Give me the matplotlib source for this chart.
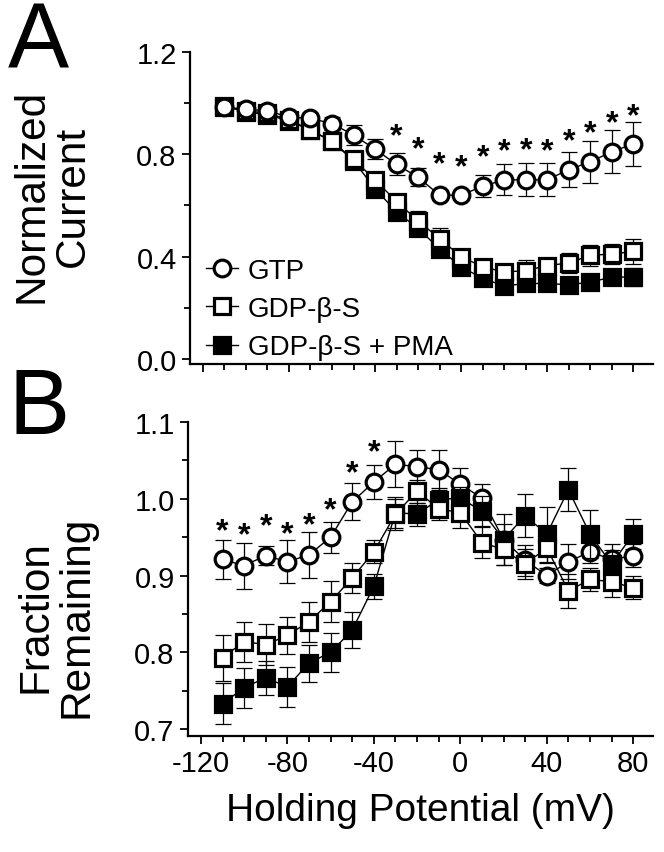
import matplotlib.pyplot as plt
from matplotlib.ticker import MultipleLocator

plt.rcParams['font.family'] = ['Liberation Sans', 'DejaVu Sans']
plt.rcParams['axes.unicode_minus'] = False

# Holding potentials (mV)
volts = [-110, -100, -90, -80, -70, -60, -50, -40, -30, -20,
         -10, 0, 10, 20, 30, 40, 50, 60, 70, 80]
series_names = ['GTP', 'GDP-\u03b2-S', 'GDP-\u03b2-S + PMA']

# Panel A: normalized current
a_gtp = [0.985, 0.975, 0.97, 0.945, 0.94, 0.92, 0.875, 0.82, 0.76, 0.71,
         0.64, 0.64, 0.675, 0.70, 0.70, 0.70, 0.74, 0.77, 0.81, 0.84]
a_gtp_err = [0.015, 0.015, 0.015, 0.02, 0.02, 0.025, 0.038, 0.039, 0.043, 0.035,
             0.015, 0.012, 0.043, 0.06, 0.064, 0.065, 0.069, 0.082, 0.085, 0.085]
a_gdp = [0.985, 0.97, 0.96, 0.935, 0.895, 0.85, 0.78, 0.70, 0.615, 0.54,
         0.47, 0.40, 0.36, 0.34, 0.345, 0.365, 0.375, 0.405, 0.41, 0.42]
a_gdp_err = [0.01, 0.01, 0.01, 0.015, 0.015, 0.02, 0.02, 0.025, 0.03, 0.04,
             0.04, 0.03, 0.03, 0.03, 0.04, 0.03, 0.04, 0.04, 0.04, 0.047]
a_pma = [0.99, 0.965, 0.955, 0.93, 0.895, 0.85, 0.775, 0.665, 0.575, 0.51,
         0.43, 0.36, 0.315, 0.285, 0.295, 0.295, 0.29, 0.30, 0.32, 0.32]
a_pma_err = [0.015, 0.015, 0.015, 0.015, 0.015, 0.02, 0.02, 0.02, 0.02, 0.02,
             0.02, 0.02, 0.02, 0.02, 0.02, 0.02, 0.03, 0.02, 0.02, 0.035]
a_star_x = [-30, -20, -10, 0, 10, 20, 30, 40, 50, 60, 70, 80]
a_star_y = [0.91, 0.86, 0.80, 0.79, 0.83, 0.85, 0.855, 0.85, 0.89, 0.92, 0.96, 0.99]

# Panel B: fraction remaining
b_gtp = [0.921, 0.913, 0.926, 0.918, 0.927, 0.95, 0.996, 1.022, 1.045, 1.042,
         1.038, 1.019, 1.001, 0.947, 0.92, 0.90, 0.918, 0.931, 0.921, 0.926]
b_gtp_err = [0.025, 0.03, 0.012, 0.028, 0.03, 0.02, 0.024, 0.022, 0.03, 0.021,
             0.026, 0.021, 0.018, 0.02, 0.02, 0.01, 0.023, 0.015, 0.012, 0.015]
b_gdp = [0.793, 0.814, 0.81, 0.822, 0.84, 0.866, 0.897, 0.931, 0.98, 1.01,
         0.987, 0.982, 0.943, 0.934, 0.915, 0.936, 0.88, 0.895, 0.892, 0.884]
b_gdp_err = [0.03, 0.026, 0.027, 0.024, 0.026, 0.027, 0.02, 0.015, 0.02, 0.015,
             0.015, 0.02, 0.02, 0.02, 0.02, 0.02, 0.022, 0.015, 0.02, 0.015]
b_pma = [0.733, 0.754, 0.767, 0.755, 0.786, 0.80, 0.829, 0.886, 0.982, 0.98,
         0.999, 1.001, 0.984, 0.947, 0.978, 0.954, 1.012, 0.954, 0.915, 0.954]
b_pma_err = [0.027, 0.026, 0.022, 0.026, 0.024, 0.025, 0.024, 0.016, 0.02, 0.015,
             0.015, 0.015, 0.02, 0.033, 0.028, 0.036, 0.028, 0.031, 0.026, 0.02]
b_star_x = [-110, -100, -90, -80, -70, -60, -50, -40]
b_star_y = [0.971, 0.966, 0.978, 0.967, 0.979, 0.999, 1.046, 1.074]

fig = plt.figure(figsize=(6.64, 8.53), dpi=100)
ax_a = fig.add_axes([0.286, 0.572, 0.697, 0.366])
ax_b = fig.add_axes([0.283, 0.136, 0.700, 0.368])

styles = [dict(marker='o', mfc='white', ms=12),
          dict(marker='s', mfc='white', ms=11.5),
          dict(marker='s', mfc='black', ms=11.5)]


def draw_series(ax, y, err, style, z):
    ax.errorbar(volts, y, yerr=err, fmt='none', ecolor='black', elinewidth=0.9,
                capsize=5.5, capthick=0.9, zorder=z)
    line, = ax.plot(volts, y, '-', color='black', lw=1.0, mec='black', mew=2.3,
                    zorder=z + 0.5, **style)
    return line


def draw_stars(ax, xs, ys):
    fs = 23
    for x, y in zip(xs, ys):
        ax.annotate('*', xy=(x, y), xytext=(0, -0.57 * fs), textcoords='offset points',
                    ha='center', va='baseline', fontsize=fs, fontweight='bold')


# panel A: filled, open, circles on top
h_pma = draw_series(ax_a, a_pma, a_pma_err, styles[2], 2)
h_gdp = draw_series(ax_a, a_gdp, a_gdp_err, styles[1], 3)
h_gtp = draw_series(ax_a, a_gtp, a_gtp_err, styles[0], 4)
draw_stars(ax_a, a_star_x, a_star_y)

# panel B: circles, filled, open on top
draw_series(ax_b, b_gtp, b_gtp_err, styles[0], 2)
draw_series(ax_b, b_pma, b_pma_err, styles[2], 3)
draw_series(ax_b, b_gdp, b_gdp_err, styles[1], 4)
draw_stars(ax_b, b_star_x, b_star_y)

ax_a.legend([h_gtp, h_gdp, h_pma], series_names, loc='lower left',
            bbox_to_anchor=(0.035, 0.012), frameon=False, fontsize=20,
            handlelength=1.15, handletextpad=0.35, labelspacing=0.44,
            borderpad=0, borderaxespad=0)

for ax in (ax_a, ax_b):
    ax.set_xlim(-126, 89)
    ax.spines['top'].set_visible(False)
    ax.spines['right'].set_visible(False)
    ax.spines['left'].set_linewidth(1.6)
    ax.spines['bottom'].set_linewidth(1.6)
    ax.xaxis.set_major_locator(MultipleLocator(40))
    ax.xaxis.set_minor_locator(MultipleLocator(10))
    ax.tick_params(which='major', direction='out', length=6, width=1.3, labelsize=21)
    ax.tick_params(which='minor', direction='out', length=4.5, width=1.3)

ax_a.set_ylim(-0.02, 1.2)
ax_a.yaxis.set_major_locator(MultipleLocator(0.4))
ax_a.yaxis.set_minor_locator(MultipleLocator(0.2))
ax_a.yaxis.set_major_formatter(plt.FormatStrFormatter('%.1f'))
ax_a.tick_params(axis='x', labelbottom=False)

ax_b.set_ylim(0.691, 1.1)
ax_b.yaxis.set_major_locator(MultipleLocator(0.1))
ax_b.yaxis.set_minor_locator(MultipleLocator(0.05))
ax_b.yaxis.set_major_formatter(plt.FormatStrFormatter('%.1f'))
ax_b.set_xlabel('Holding Potential (mV)', fontsize=28, labelpad=11)

fig.text(52 / 664, 1 - 196 / 853, 'Normalized\nCurrent', rotation=90, fontsize=30.5,
         ha='center', va='center', linespacing=1.05)
fig.text(56 / 664, 1 - 617 / 853, 'Fraction\nRemaining', rotation=90, fontsize=30.5,
         ha='center', va='center', linespacing=1.05)
fig.text(38 / 664, 1 - 68 / 853, 'A', fontsize=66, ha='center', va='baseline')
fig.text(39 / 664, 1 - 434 / 853, 'B', fontsize=66, ha='center', va='baseline')

fig.savefig('out.png', dpi=100)
